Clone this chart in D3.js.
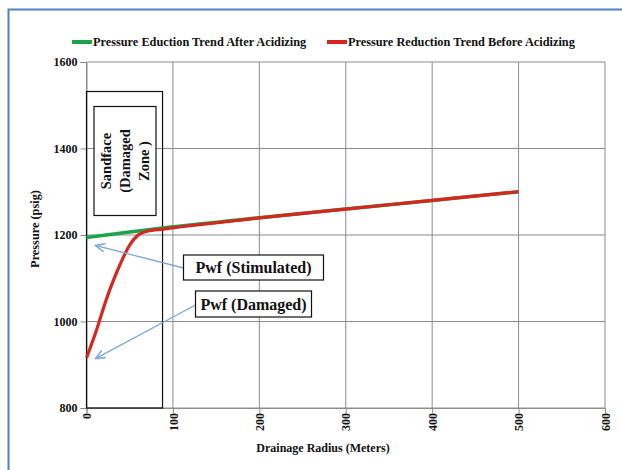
<!DOCTYPE html>
<html><head><meta charset="utf-8">
<script src="https://cdn.jsdelivr.net/npm/d3@7"></script>
<style>body{margin:0;background:#fff}svg{display:block}text{font-family:"Liberation Serif","Times New Roman",serif;font-weight:bold;fill:#111}</style>
</head><body><svg id="c" width="622" height="470"></svg>
<script>
const xTicks = [0,100,200,300,400,500,600];
const yTicks = [800,1000,1200,1400,1600];
const seriesNames = ["Pressure Eduction Trend After Acidizing","Pressure Reduction Trend Before Acidizing"];
const greenX = [0,50,100,200,300,400,500];
const greenY = [1194,1207,1219,1240,1260,1280,1300];
const redX = [0,12,21,31,41,50,60,70,87,100,200,300,400,500];
const redY = [916,980,1042,1096,1142,1180,1203,1210,1213,1217,1240,1260,1280,1300];
const zoneLabel = ["Sandface","(Damaged","Zone )"];
const callouts = [{t:"Pwf (Stimulated)", px:0, py:1185}, {t:"Pwf (Damaged)", px:0, py:912}];

const svg = d3.select("#c");
const x = d3.scaleLinear().domain([0,600]).range([86.5,605]);
const y = d3.scaleLinear().domain([800,1600]).range([408,62]);

// outer blue frame
svg.append("path").attr("d","M8.5,470 L8.5,9.5 L622,9.5").attr("fill","none").attr("stroke","#4f81bd").attr("stroke-width",2);

// grid
const g = svg.append("g");
g.selectAll(".vg").data(xTicks).join("line").attr("x1",d=>x(d)).attr("x2",d=>x(d)).attr("y1",y(1600)).attr("y2",y(800)).attr("stroke","#8c8c8c").attr("stroke-width",1);
g.selectAll(".hg").data(yTicks).join("line").attr("x1",x(0)).attr("x2",x(600)).attr("y1",d=>y(d)).attr("y2",d=>y(d)).attr("stroke","#8c8c8c").attr("stroke-width",1);

// axes
const ya = d3.axisLeft(y).tickValues(yTicks).tickFormat(d3.format("d")).tickSize(6).tickPadding(3);
const yg = svg.append("g").attr("transform",`translate(${x(0)},0)`).call(ya);
yg.select(".domain").attr("stroke","#8c8c8c");
yg.selectAll(".tick line").attr("stroke","#8c8c8c");
yg.selectAll("text").style("font-size","12px").attr("fill","#111");

const xa = d3.axisBottom(x).tickValues(xTicks).tickFormat(d3.format("d")).tickSize(5).tickPadding(3);
const xg = svg.append("g").attr("transform",`translate(0,${y(800)})`).call(xa);
xg.select(".domain").attr("stroke","#8c8c8c");
xg.selectAll(".tick line").attr("stroke","#8c8c8c");
xg.selectAll("text").style("font-size","12px").attr("fill","#111")
  .attr("transform","rotate(-90)").attr("text-anchor","end").attr("dy","0.35em").attr("x",-5).attr("y",0);

// axis titles
svg.append("text").attr("x",323).attr("y",452).attr("text-anchor","middle").style("font-size","12px").text("Drainage Radius (Meters)");
svg.append("text").attr("transform","translate(39,229) rotate(-90)").attr("text-anchor","middle").style("font-size","12.3px").text("Pressure (psig)");

// damaged zone boxes
svg.append("rect").attr("x",x(0)).attr("y",91.5).attr("width",x(88)-x(0)).attr("height",y(800)-91.5).attr("fill","none").attr("stroke","#111").attr("stroke-width",1.2);
svg.append("rect").attr("x",94).attr("y",106.5).attr("width",62).attr("height",109).attr("fill","#fff").attr("stroke","#111").attr("stroke-width",1.2);
const zt = svg.append("text").attr("transform","translate(125,161) rotate(-90)").attr("text-anchor","middle").style("font-size","14.5px");
zoneLabel.forEach((s,i)=>zt.append("tspan").attr("x",0).attr("y",(i-1)*19+5).text(s));

// lines
const lineG = d3.line().x(d=>x(d[0])).y(d=>y(d[1])).curve(d3.curveMonotoneX);
const lineR = d3.line().x(d=>x(d[0])).y(d=>y(d[1])).curve(d3.curveBasis);
svg.append("path").datum(greenX.map((v,i)=>[v,greenY[i]])).attr("d",lineG).attr("fill","none").attr("stroke","#1fa24c").attr("stroke-width",3.5);
svg.append("path").datum(redX.map((v,i)=>[v,redY[i]])).attr("d",lineR).attr("fill","none").attr("stroke","#d7261e").attr("stroke-width",3.2);

// callouts
const defs = svg.append("defs");
defs.append("marker").attr("id","ah").attr("viewBox","0 0 10 10").attr("refX",9).attr("refY",5).attr("markerWidth",8).attr("markerHeight",8).attr("orient","auto-start-reverse")
  .append("path").attr("d","M0,1 L9,5 L0,9").attr("fill","none").attr("stroke","#7ea6d8").attr("stroke-width",1.4);
const boxes = [{x:183.5,y:255,w:140,h:25,sx:183.5,sy:268},{x:195.5,y:291,w:116,h:26,sx:195.5,sy:305}];
callouts.forEach((c,i)=>{
  const b = boxes[i];
  svg.append("line").attr("x1",b.sx).attr("y1",b.sy).attr("x2",x(c.px)+9).attr("y2",y(c.py)+ (i==0?4:-1)).attr("stroke","#7ea6d8").attr("stroke-width",1.3).attr("marker-end","url(#ah)");
  svg.append("rect").attr("x",b.x).attr("y",b.y).attr("width",b.w).attr("height",b.h).attr("fill","#fff").attr("stroke","#111").attr("stroke-width",1.2);
  svg.append("text").attr("x",b.x+b.w/2).attr("y",b.y+b.h/2+5.5).attr("text-anchor","middle").style("font-size","16px").text(c.t);
});

// legend
const leg = [{x:72,c:"#1fa24c"},{x:327,c:"#d7261e"}];
leg.forEach((l,i)=>{
  svg.append("line").attr("x1",l.x).attr("x2",l.x+20).attr("y1",42).attr("y2",42).attr("stroke",l.c).attr("stroke-width",4);
  svg.append("text").attr("x",l.x+21).attr("y",46).style("font-size","12.3px").text(seriesNames[i]);
});
</script></body></html>
